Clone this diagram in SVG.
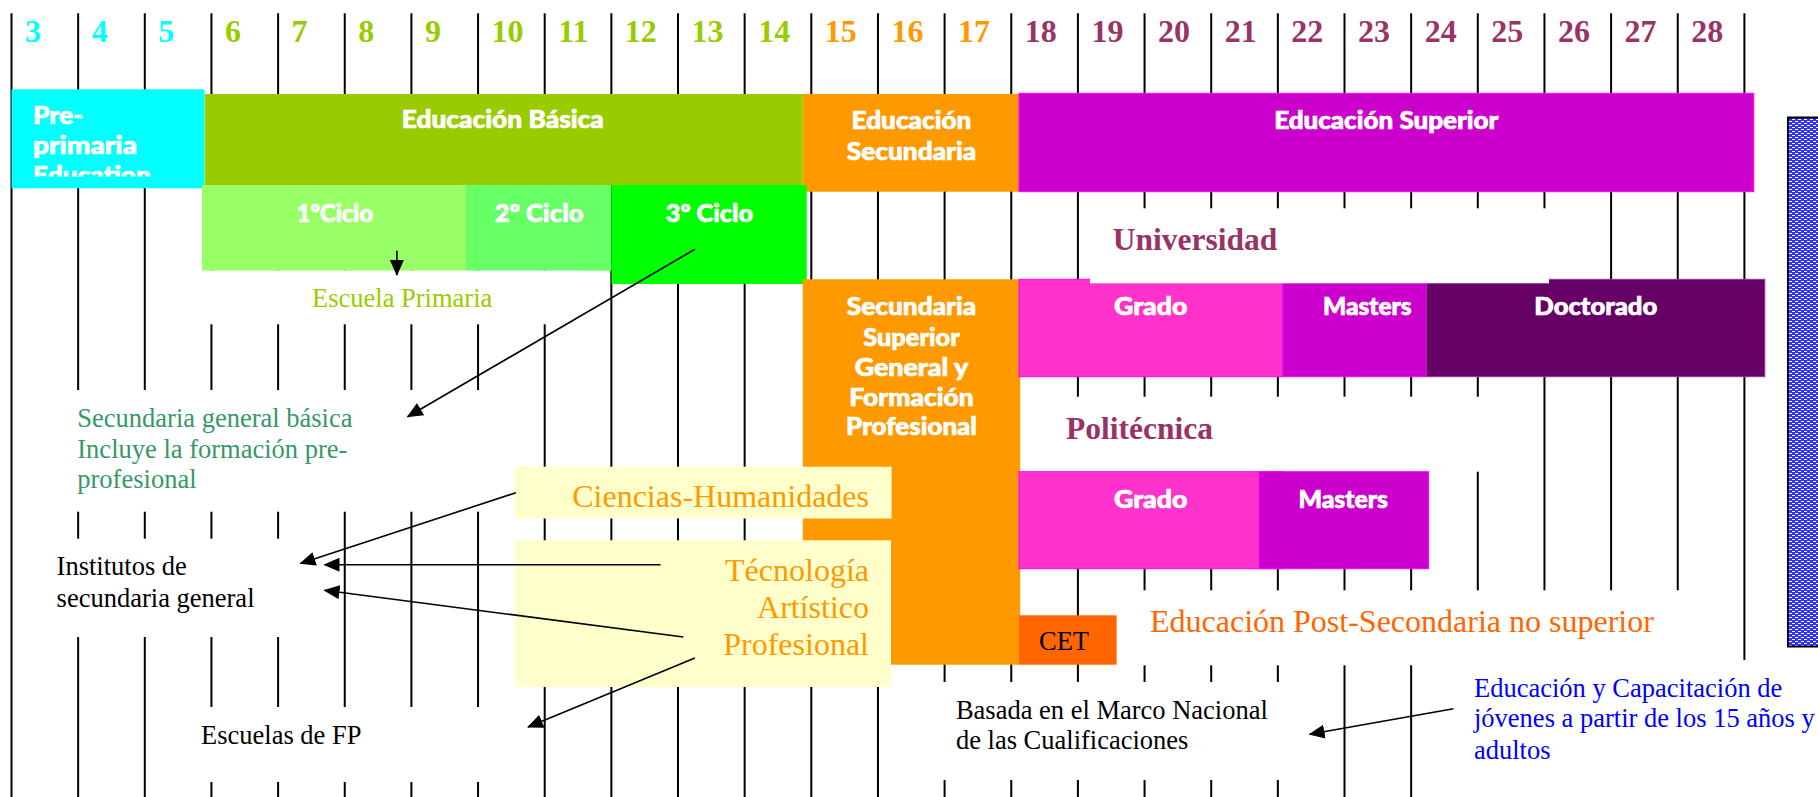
<svg xmlns="http://www.w3.org/2000/svg" width="1818" height="797" viewBox="0 0 1818 797">
<defs>
<style>
.grid line{stroke:#000;stroke-width:2}
.num{font-family:"Liberation Serif","Times New Roman",serif;font-weight:bold;font-size:32px}
.c1{fill:#00FFFF}.c2{fill:#99CC00}.c3{fill:#FF9900}.c4{fill:#993366}
.lbl{font-family:Lato,"Open Sans","DejaVu Sans",sans-serif;font-weight:900;font-size:24px;fill:#fff;stroke:#fff;stroke-width:0.7;text-anchor:middle}
.lbls{font-family:Lato,"Open Sans","DejaVu Sans",sans-serif;font-weight:900;font-size:24px;fill:#fff;stroke:#fff;stroke-width:0.7}
.serif{font-family:"Liberation Serif","Times New Roman",serif;font-size:26.5px}
.big{font-size:32px}
.hd{font-family:"Liberation Serif","Times New Roman",serif;font-weight:bold;font-size:31.5px;fill:#993366}
.tb{fill:#fff}
.mag{stroke:#FF00FF;stroke-width:1}
.yel{fill:#FFFFCC}
#connectors line{stroke:#000;stroke-width:1.6;marker-end:url(#ah)}
</style>
<marker id="ah" markerUnits="userSpaceOnUse" markerWidth="16" markerHeight="14" refX="15" refY="7" orient="auto"><path d="M0,0 L16,7 L0,14 z" fill="#000"/></marker>
<pattern id="dots" width="6" height="4" patternUnits="userSpaceOnUse">
<rect width="6" height="4" fill="#3030ff"/>
<rect x="1" y="1" width="3" height="1" fill="#fff"/>
<rect x="4" y="3" width="2" height="1" fill="#fff"/>
<rect x="0" y="3" width="1" height="1" fill="#fff"/>
</pattern>
<clipPath id="clipPre"><rect x="11.5" y="89" width="193" height="87.5"/></clipPath>
</defs>
<rect width="1818" height="797" fill="#fff"/>

<g id="grid" class="grid">
<line x1="11.5" y1="13.3" x2="11.5" y2="797"/>
<line x1="78.15" y1="13.3" x2="78.15" y2="797"/>
<line x1="144.8" y1="13.3" x2="144.8" y2="797"/>
<line x1="211.45" y1="13.3" x2="211.45" y2="797"/>
<line x1="278.1" y1="13.3" x2="278.1" y2="797"/>
<line x1="344.75" y1="13.3" x2="344.75" y2="797"/>
<line x1="411.4" y1="13.3" x2="411.4" y2="797"/>
<line x1="478.05" y1="13.3" x2="478.05" y2="797"/>
<line x1="544.7" y1="13.3" x2="544.7" y2="797"/>
<line x1="611.35" y1="13.3" x2="611.35" y2="797"/>
<line x1="678" y1="13.3" x2="678" y2="797"/>
<line x1="744.65" y1="13.3" x2="744.65" y2="797"/>
<line x1="811.3" y1="13.3" x2="811.3" y2="797"/>
<line x1="877.95" y1="13.3" x2="877.95" y2="797"/>
<line x1="944.6" y1="13.3" x2="944.6" y2="797"/>
<line x1="1011.25" y1="13.3" x2="1011.25" y2="797"/>
<line x1="1077.9" y1="13.3" x2="1077.9" y2="797"/>
<line x1="1144.55" y1="13.3" x2="1144.55" y2="797"/>
<line x1="1211.2" y1="13.3" x2="1211.2" y2="797"/>
<line x1="1277.85" y1="13.3" x2="1277.85" y2="797"/>
<line x1="1344.5" y1="13.3" x2="1344.5" y2="797"/>
<line x1="1411.15" y1="13.3" x2="1411.15" y2="797"/>
<line x1="1477.8" y1="13.3" x2="1477.8" y2="797"/>
<line x1="1544.45" y1="13.3" x2="1544.45" y2="797"/>
<line x1="1611.1" y1="13.3" x2="1611.1" y2="797"/>
<line x1="1677.75" y1="13.3" x2="1677.75" y2="797"/>
<line x1="1744.4" y1="13.3" x2="1744.4" y2="660"/>
</g>

<g id="ages" class="num">
<text x="25" y="41.7" class="c1">3</text>
<text x="91.65" y="41.7" class="c1">4</text>
<text x="158.3" y="41.7" class="c1">5</text>
<text x="224.95" y="41.7" class="c2">6</text>
<text x="291.6" y="41.7" class="c2">7</text>
<text x="358.25" y="41.7" class="c2">8</text>
<text x="424.9" y="41.7" class="c2">9</text>
<text x="491.55" y="41.7" class="c2">10</text>
<text x="558.2" y="41.7" class="c2">11</text>
<text x="624.85" y="41.7" class="c2">12</text>
<text x="691.5" y="41.7" class="c2">13</text>
<text x="758.15" y="41.7" class="c2">14</text>
<text x="824.8" y="41.7" class="c3">15</text>
<text x="891.45" y="41.7" class="c3">16</text>
<text x="958.1" y="41.7" class="c3">17</text>
<text x="1024.75" y="41.7" class="c4">18</text>
<text x="1091.4" y="41.7" class="c4">19</text>
<text x="1158.05" y="41.7" class="c4">20</text>
<text x="1224.7" y="41.7" class="c4">21</text>
<text x="1291.35" y="41.7" class="c4">22</text>
<text x="1358" y="41.7" class="c4">23</text>
<text x="1424.65" y="41.7" class="c4">24</text>
<text x="1491.3" y="41.7" class="c4">25</text>
<text x="1557.95" y="41.7" class="c4">26</text>
<text x="1624.6" y="41.7" class="c4">27</text>
<text x="1691.25" y="41.7" class="c4">28</text>
</g>

<g id="preprimaria">
<rect x="11.5" y="89.3" width="193" height="99" fill="#00FFFF"/>
<g clip-path="url(#clipPre)" class="lbls">
<text x="33" y="124.3" textLength="50" lengthAdjust="spacingAndGlyphs">Pre-</text>
<text x="33" y="154.3" textLength="104" lengthAdjust="spacingAndGlyphs">primaria</text>
<text x="33" y="184.3" textLength="118" lengthAdjust="spacingAndGlyphs">Education</text>
</g>
</g>

<g id="basica">
<rect x="204.7" y="94" width="598.1" height="91" fill="#99CC00"/>
<text class="lbl" x="502.8" y="128.3" textLength="202" lengthAdjust="spacingAndGlyphs">Educación Básica</text>
</g>

<g id="secundaria">
<rect x="802.8" y="94" width="216.2" height="97.7" fill="#FF9900"/>
<text class="lbl" x="911.5" y="129.3" textLength="119.8" lengthAdjust="spacingAndGlyphs">Educación</text>
<text class="lbl" x="911.5" y="160" textLength="129.4" lengthAdjust="spacingAndGlyphs">Secundaria</text>
</g>

<g id="superior">
<rect x="1019" y="93.3" width="734.8" height="98.4" fill="#CC00CC" class="mag"/>
<text class="lbl" x="1386.3" y="129" textLength="224.3" lengthAdjust="spacingAndGlyphs">Educación Superior</text>
</g>

<g id="ciclo1">
<rect x="202" y="185" width="264" height="85.7" fill="#99FF66"/>
<text class="lbl" x="334.9" y="221.7" textLength="76.5" lengthAdjust="spacingAndGlyphs">1ºCiclo</text>
</g>
<g id="ciclo2">
<rect x="466" y="185" width="145.5" height="85.7" fill="#66FF66"/>
<text class="lbl" x="539.2" y="221.7" textLength="88.8" lengthAdjust="spacingAndGlyphs">2º Ciclo</text>
</g>
<g id="ciclo3">
<rect x="611.5" y="185" width="195.2" height="99" fill="#00FF00"/>
<text class="lbl" x="709.4" y="221.7" textLength="87.3" lengthAdjust="spacingAndGlyphs">3º Ciclo</text>
</g>

<g id="escuela-primaria">
<rect class="tb" x="202" y="270.7" width="378" height="53.6"/>
<text class="serif" x="312" y="306.7" fill="#99CC00">Escuela Primaria</text>
</g>

<g id="sec-superior">
<rect x="802.8" y="279.3" width="217.4" height="385.4" fill="#FF9900"/>
<text class="lbl" x="911.5" y="315" textLength="129.4" lengthAdjust="spacingAndGlyphs">Secundaria</text>
<text class="lbl" x="911.5" y="346" textLength="96.4" lengthAdjust="spacingAndGlyphs">Superior</text>
<text class="lbl" x="911.5" y="376" textLength="113.7" lengthAdjust="spacingAndGlyphs">General y</text>
<text class="lbl" x="911.5" y="406" textLength="124.4" lengthAdjust="spacingAndGlyphs">Formación</text>
<text class="lbl" x="911.5" y="435" textLength="130.9" lengthAdjust="spacingAndGlyphs">Profesional</text>
</g>

<g id="uni-grado">
<rect x="1019" y="279.3" width="263.8" height="97.4" fill="#FF33CC" class="mag"/>
<text class="lbl" x="1150.7" y="315.3" textLength="73.4" lengthAdjust="spacingAndGlyphs">Grado</text>
</g>
<g id="uni-masters">
<rect x="1282.8" y="279.3" width="143.8" height="97.4" fill="#CC00CC" class="mag"/>
<text class="lbl" x="1367.3" y="315.3" textLength="88.7" lengthAdjust="spacingAndGlyphs">Masters</text>
</g>
<g id="doctorado">
<rect x="1426.6" y="279.3" width="338.2" height="97.4" fill="#660066" stroke="#993399" stroke-width="1"/>
<text class="lbl" x="1595.8" y="315.3" textLength="123" lengthAdjust="spacingAndGlyphs">Doctorado</text>
</g>

<g id="universidad">
<rect class="tb" x="1090" y="208.3" width="459" height="75"/>
<text class="hd" x="1112.8" y="250">Universidad</text>
</g>

<g id="politecnica">
<rect class="tb" x="1025" y="396.7" width="485" height="75"/>
<text class="hd" x="1066" y="439.3">Politécnica</text>
</g>

<g id="poli-grado">
<rect x="1019" y="471.7" width="264" height="97" fill="#FF33CC" class="mag"/>
<text class="lbl" x="1150.7" y="508" textLength="73.4" lengthAdjust="spacingAndGlyphs">Grado</text>
</g>
<g id="poli-masters">
<rect x="1259" y="471.7" width="169.6" height="97" fill="#CC00CC" class="mag"/>
<text class="lbl" x="1343.2" y="508" textLength="89.5" lengthAdjust="spacingAndGlyphs">Masters</text>
</g>

<g id="sec-general-basica">
<rect class="tb" x="60" y="390" width="450" height="121.7"/>
<text class="serif" x="77.3" y="426.7" fill="#339966">Secundaria general básica</text>
<text class="serif" x="77.3" y="457.5" fill="#339966">Incluye la formación pre-</text>
<text class="serif" x="77.3" y="488.3" fill="#339966">profesional</text>
</g>

<g id="ciencias">
<rect class="yel" x="514.7" y="466.7" width="376.9" height="51.8"/>
<text class="serif big" x="869" y="506.7" fill="#FF9900" text-anchor="end">Ciencias-Humanidades</text>
</g>

<g id="tecnologia">
<rect class="yel" x="514.7" y="540.3" width="376.3" height="146.7"/>
<text class="serif big" x="869" y="580.5" fill="#FF9900" text-anchor="end">Técnología</text>
<text class="serif big" x="869" y="617.5" fill="#FF9900" text-anchor="end">Artístico</text>
<text class="serif big" x="869" y="654.5" fill="#FF9900" text-anchor="end">Profesional</text>
</g>

<g id="institutos">
<rect class="tb" x="40" y="538.7" width="270" height="98.3"/>
<text class="serif" x="56.6" y="575.3">Institutos de</text>
<text class="serif" x="56.6" y="607">secundaria general</text>
</g>

<g id="escuelas-fp">
<rect class="tb" x="185" y="707" width="330" height="75"/>
<text class="serif" x="201" y="743.7">Escuelas de FP</text>
</g>

<g id="cet">
<rect x="1019" y="615.3" width="97.6" height="49.4" fill="#FF6600"/>
<text class="serif" x="1064" y="650.3" text-anchor="middle">CET</text>
</g>

<g id="post-secundaria">
<rect class="tb" x="1125" y="590.3" width="585" height="75"/>
<text class="serif big" x="1150" y="632" fill="#FF6600">Educación Post-Secondaria no superior</text>
</g>

<g id="basada">
<rect class="tb" x="905" y="682" width="405" height="98"/>
<text class="serif" x="955.9" y="718.7">Basada en el Marco Nacional</text>
<text class="serif" x="955.9" y="749.3">de las Cualificaciones</text>
</g>

<g id="capacitacion">
<rect class="tb" x="1440" y="660" width="378" height="137"/>
<text class="serif" x="1474" y="697" fill="#0000FF">Educación y Capacitación de</text>
<text class="serif" x="1474" y="727" fill="#0000FF">jóvenes a partir de los 15 años y</text>
<text class="serif" x="1474" y="758.7" fill="#0000FF">adultos</text>
</g>

<g id="blue-bar">
<rect x="1788" y="117.5" width="40" height="529" fill="url(#dots)" stroke="#000" stroke-width="2"/>
</g>

<g id="connectors">
<line x1="396.9" y1="250.7" x2="396.9" y2="275"/>
<line x1="694.9" y1="249.3" x2="407.6" y2="416.7"/>
<line x1="515.9" y1="492.7" x2="300.4" y2="563.5"/>
<line x1="660.5" y1="564.7" x2="324.5" y2="564.7"/>
<line x1="683.4" y1="637" x2="324.5" y2="590.3"/>
<line x1="694.9" y1="658" x2="528" y2="727"/>
<line x1="1453.4" y1="708.7" x2="1309.6" y2="734.3"/>
</g>
</svg>
